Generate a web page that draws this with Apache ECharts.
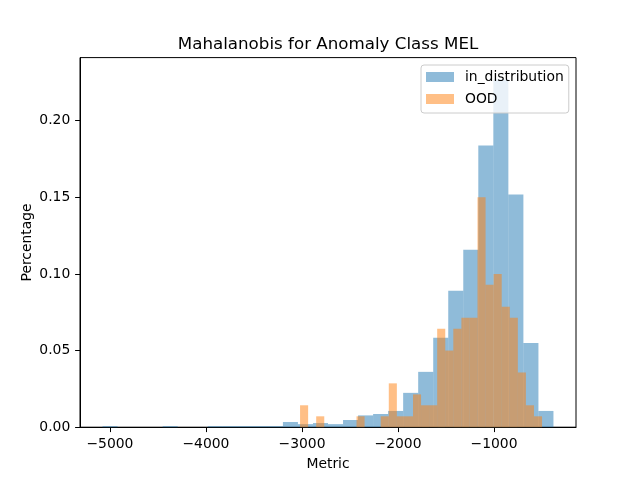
<!DOCTYPE html>
<html>
<head>
<meta charset="utf-8">
<script src="https://cdn.jsdelivr.net/npm/echarts@6/dist/echarts.min.js"></script>
<style>html,body{margin:0;padding:0;background:#fff}#c{width:640px;height:480px}</style>
</head>
<body>
<div id="c"></div>
<script>
// Histogram bin edges (Metric) and bar heights (Percentage)
var inDistEdges = [-5077, -4920.5, -4763.9, -4607.4, -4450.9, -4294.3, -4137.8, -3981.3, -3824.8, -3668.2,
  -3511.7, -3355.2, -3198.6, -3042.1, -2885.6, -2729.0, -2572.5, -2416.0, -2259.5, -2102.9,
  -1946.4, -1789.9, -1633.3, -1476.8, -1320.3, -1163.7, -1007.2, -850.7, -694.2, -537.6, -381.1];
var inDistValues = [0.0007, 0, 0, 0, 0.0007, 0, 0, 0.0007, 0.0007, 0.0007,
  0.0007, 0.0007, 0.0034, 0.0020, 0.0027, 0.0020, 0.0047, 0.0077, 0.0086, 0.0106,
  0.0224, 0.0361, 0.0583, 0.0890, 0.1158, 0.1838, 0.2270, 0.1518, 0.0550, 0.0106];
var oodEdges = [-3020, -2936, -2852, -2768, -2684, -2600, -2516, -2432, -2348, -2264,
  -2180, -2096, -2012, -1928, -1844, -1760, -1676, -1592, -1508, -1424,
  -1340, -1256, -1172, -1088, -1004, -920, -836, -752, -668, -584, -500];
var oodValues = [0.0143, 0, 0.0071, 0, 0, 0, 0, 0.0071, 0, 0,
  0.0071, 0.0286, 0.0071, 0.0071, 0.0214, 0.0143, 0.0143, 0.0643, 0.0500, 0.0643,
  0.0714, 0.0714, 0.1500, 0.0929, 0.1000, 0.0786, 0.0714, 0.0357, 0.0143, 0.0071];
var xTicks = [-5000, -4000, -3000, -2000, -1000];
var yTicks = [0, 0.05, 0.10, 0.15, 0.20];
var seriesNames = ['in_distribution', 'OOD'];
var titleText = 'Mahalanobis for Anomaly Class MEL';

function toData(edges, vals) {
  var out = [];
  for (var i = 0; i < vals.length; i++) out.push([edges[i], edges[i + 1], vals[i]]);
  return out;
}
function renderBar(params, api) {
  var p0 = api.coord([api.value(0), api.value(2)]);
  var p1 = api.coord([api.value(1), 0]);
  return {
    type: 'rect',
    shape: { x: p0[0], y: p0[1], width: p1[0] - p0[0], height: p1[1] - p0[1] },
    style: { fill: api.visual('color') }
  };
}
var FONT = 'DejaVu Sans';
var chart = echarts.init(document.getElementById('c'), null, { renderer: 'canvas' });
chart.setOption({
  animation: false,
  backgroundColor: '#ffffff',
  textStyle: { fontFamily: FONT },
  title: {
    text: titleText, left: 328, top: 36, padding: 0, textAlign: 'center',
    textStyle: { fontFamily: FONT, fontSize: 16.7, fontWeight: 'normal', color: '#000' }
  },
  legend: {
    orient: 'vertical', left: 421, top: 65,
    padding: [5, 5, 7, 5], itemGap: 8, itemWidth: 28, itemHeight: 10,
    icon: 'rect',
    backgroundColor: 'rgba(255,255,255,0.8)', borderColor: '#cccccc', borderWidth: 1, borderRadius: 3,
    textStyle: { fontFamily: FONT, fontSize: 13.9, color: '#000', padding: [0, 0, 0, 6] },
    data: seriesNames
  },
  grid: { left: 80, right: 64, top: 57.6, bottom: 52.8, show: true, borderColor: '#000', borderWidth: 1, backgroundColor: 'transparent' },
  xAxis: {
    type: 'value', min: -5311.8, max: -146.3,
    name: 'Metric', nameLocation: 'middle', nameGap: 30, nameMoveOverlap: false,
    nameTextStyle: { fontFamily: FONT, fontSize: 13.9, color: '#000' },
    axisLine: { show: true, onZero: false, lineStyle: { color: '#000', width: 1 } },
    axisTick: { show: true, inside: false, length: 4.9, customValues: xTicks, lineStyle: { color: '#000' } },
    axisLabel: { show: true, margin: 9.7, customValues: xTicks, fontFamily: FONT, fontSize: 13.9, color: '#000',
      formatter: function (v) { return String(v).replace('-', '\u2212'); } },
    splitLine: { show: false }
  },
  yAxis: {
    type: 'value', min: 0, max: 0.2411,
    name: 'Percentage', nameLocation: 'middle', nameGap: 46, nameRotate: 90, nameMoveOverlap: false,
    nameTextStyle: { fontFamily: FONT, fontSize: 13.9, color: '#000' },
    axisLine: { show: true, lineStyle: { color: '#000', width: 1 } },
    axisTick: { show: true, inside: false, length: 4.9, customValues: yTicks, lineStyle: { color: '#000' } },
    axisLabel: { show: true, margin: 9.7, customValues: yTicks, fontFamily: FONT, fontSize: 13.9, color: '#000',
      formatter: function (v) { return v.toFixed(2); } },
    splitLine: { show: false }
  },
  series: [
    { name: seriesNames[0], type: 'custom', renderItem: renderBar, itemStyle: { color: 'rgba(31,119,180,0.5)' },
      encode: { x: [0, 1], y: 2 }, data: toData(inDistEdges, inDistValues), z: 2 },
    { name: seriesNames[1], type: 'custom', renderItem: renderBar, itemStyle: { color: 'rgba(255,127,14,0.5)' },
      encode: { x: [0, 1], y: 2 }, data: toData(oodEdges, oodValues), z: 3 }
  ]
});
</script>
</body>
</html>
